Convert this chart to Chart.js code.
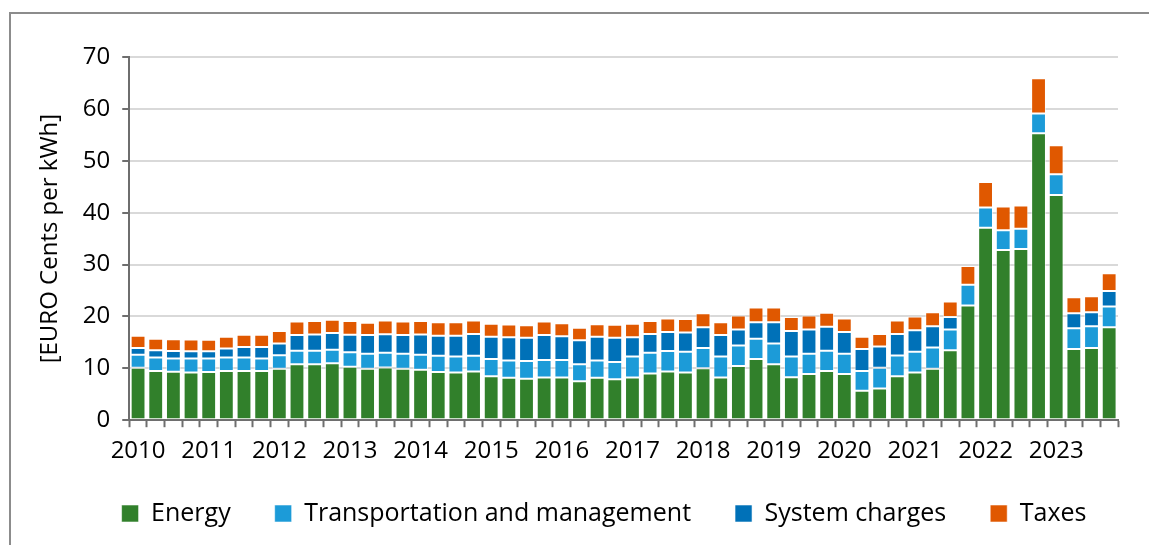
<!DOCTYPE html>
<html>
<head>
<meta charset="utf-8">
<script src="https://cdn.jsdelivr.net/npm/chart.js@4.4.1/dist/chart.umd.min.js"></script>
<style>
  html, body { margin: 0; padding: 0; background: #fff; overflow: hidden; }
  #frame { position: absolute; left: 9px; top: 12px; width: 1200px; height: 600px; border: 2px solid #8c8c8c; box-sizing: border-box; }
  #wrap { position: absolute; left: 0; top: 0; width: 1149px; height: 545px; }
</style>
</head>
<body>
<div id="frame"></div>
<div id="wrap"><canvas id="priceChart"></canvas></div>
<script>
// Anos no eixo x (um rótulo por ano, quatro trimestres cada)
const years = ['2010','2011','2012','2013','2014','2015','2016','2017','2018','2019','2020','2021','2022','2023'];
const quarters = ['Q1','Q2','Q3','Q4'];

// Componentes do preço (cents de euro por kWh), trimestral
const energy = [
  10.1, 9.5, 9.35, 9.2,   9.3, 9.5, 9.5, 9.5,   9.9, 10.8, 10.8, 11.0,
  10.3, 9.9, 10.15, 9.9,  9.7, 9.3, 9.2, 9.4,   8.45, 8.2, 8.0, 8.25,
  8.25, 7.5, 8.2, 7.9,    8.25, 9.0, 9.4, 9.2,  10.0, 8.25, 10.45, 11.8,
  10.8, 8.3, 8.9, 9.5,    8.9, 5.7, 6.1, 8.45,  9.2, 9.9, 13.5, 22.1,
  37.1, 32.8, 33.0, 55.3, 43.4, 13.7, 13.9, 17.9
];
const transport = [
  2.5, 2.6, 2.55, 2.7,    2.6, 2.6, 2.6, 2.4,   2.6, 2.6, 2.6, 2.6,
  2.8, 2.9, 2.85, 2.9,    2.9, 3.1, 3.1, 3.0,   3.35, 3.3, 3.4, 3.35,
  3.35, 3.3, 3.3, 3.3,    4.05, 4.0, 3.95, 4.0, 3.9, 4.05, 3.95, 3.9,
  4.0, 4.0, 3.9, 3.9,     3.9, 3.8, 4.0, 4.0,   4.0, 4.1, 4.0, 4.0,
  3.9, 3.8, 3.9, 3.8,     4.0, 4.0, 4.2, 4.0
];
const systemCharges = [
  1.3, 1.4, 1.45, 1.4,    1.4, 1.7, 2.0, 2.2,   2.3, 3.0, 3.1, 3.2,
  3.35, 3.6, 3.55, 3.6,   3.9, 3.9, 4.0, 4.2,   4.3, 4.5, 4.5, 4.8,
  4.6, 4.6, 4.6, 4.7,     3.7, 3.6, 3.65, 3.7,  4.0, 4.1, 3.1, 3.2,
  4.1, 4.9, 4.7, 4.6,     4.2, 4.2, 4.1, 4.15,  4.15, 4.1, 2.4, 0,
  0, 0, 0, 0,             0, 2.9, 2.7, 3.0
];
const taxes = [
  2.4, 2.2, 2.25, 2.25,   2.2, 2.3, 2.35, 2.35, 2.4, 2.6, 2.6, 2.55,
  2.65, 2.4, 2.65, 2.6,   2.6, 2.6, 2.6, 2.6,   2.5, 2.45, 2.4, 2.6,
  2.5, 2.4, 2.4, 2.5,     2.6, 2.5, 2.6, 2.6,   2.7, 2.5, 2.7, 2.8,
  2.8, 2.7, 2.7, 2.7,     2.6, 2.4, 2.4, 2.6,   2.65, 2.7, 3.0, 3.6,
  4.9, 4.6, 4.5, 6.8,     5.6, 3.1, 3.1, 3.4
];

const yTicks = [0, 10, 20, 30, 40, 50, 60, 70];

// Monta as categorias trimestrais a partir dos anos
const categories = [];
years.forEach(y => quarters.forEach(q => categories.push(y + ' ' + q)));

const FONT = 'Open Sans';
const AXIS = '#6e6e6e';

// Ajusta a posição da legenda (no original ela não fica centrada no canvas)
const legendShift = {
  id: 'legendShift',
  afterLayout(chart) {
    const lg = chart.legend;
    if (lg) {
      lg.left += 27; lg.right += 27;
      lg.top -= 19; lg.bottom -= 19;
    }
  }
};

function makeSet(label, data, color) {
  return {
    label: label,
    data: data,
    backgroundColor: color,
    borderColor: 'rgba(255,255,255,0.55)',
    borderWidth: 1,
    borderSkipped: false,
    categoryPercentage: 1.0,
    barPercentage: 0.84
  };
}

new Chart(document.getElementById('priceChart'), {
  type: 'bar',
  data: {
    labels: categories,
    datasets: [
      makeSet('Energy', energy, '#31802b'),
      makeSet('Transportation and management', transport, '#1c9bd8'),
      makeSet('System charges', systemCharges, '#0071b8'),
      makeSet('Taxes', taxes, '#e05800')
    ]
  },
  options: {
    responsive: true,
    maintainAspectRatio: false,
    animation: false,
    layout: { padding: { top: 57, left: 36, right: 31, bottom: -10 } },
    scales: {
      x: {
        stacked: true,
        offset: true,
        grid: { display: true, drawOnChartArea: false, offset: true, tickLength: 7, tickColor: AXIS, tickWidth: 2 },
        border: { display: true, color: AXIS, width: 2 },
        ticks: {
          autoSkip: false,
          maxRotation: 0,
          color: '#000',
          padding: 10,
          font: { family: FONT, size: 24 },
          callback: function(value, index) {
            return index % 4 === 0 ? years[index / 4] : '';
          }
        }
      },
      y: {
        stacked: true,
        min: 0,
        max: 70,
        afterBuildTicks: function(axis) {
          axis.ticks = yTicks.map(v => ({ value: v }));
        },
        grid: { color: '#d9d9d9', lineWidth: 2, tickLength: 7, tickColor: AXIS, tickWidth: 2 },
        border: { display: true, color: AXIS, width: 2 },
        ticks: {
          color: '#000',
          padding: 12,
          font: { family: FONT, size: 24 }
        },
        title: {
          display: true,
          text: '[EURO Cents per kWh]',
          color: '#000',
          padding: { top: 0, bottom: 6 },
          font: { family: FONT, size: 24 }
        }
      }
    },
    plugins: {
      legend: {
        position: 'bottom',
        labels: {
          color: '#000',
          boxWidth: 17,
          boxHeight: 17,
          padding: 44,
          font: { family: FONT, size: 25 }
        }
      },
      tooltip: { enabled: false }
    }
  },
  plugins: [legendShift]
});
</script>
</body>
</html>
